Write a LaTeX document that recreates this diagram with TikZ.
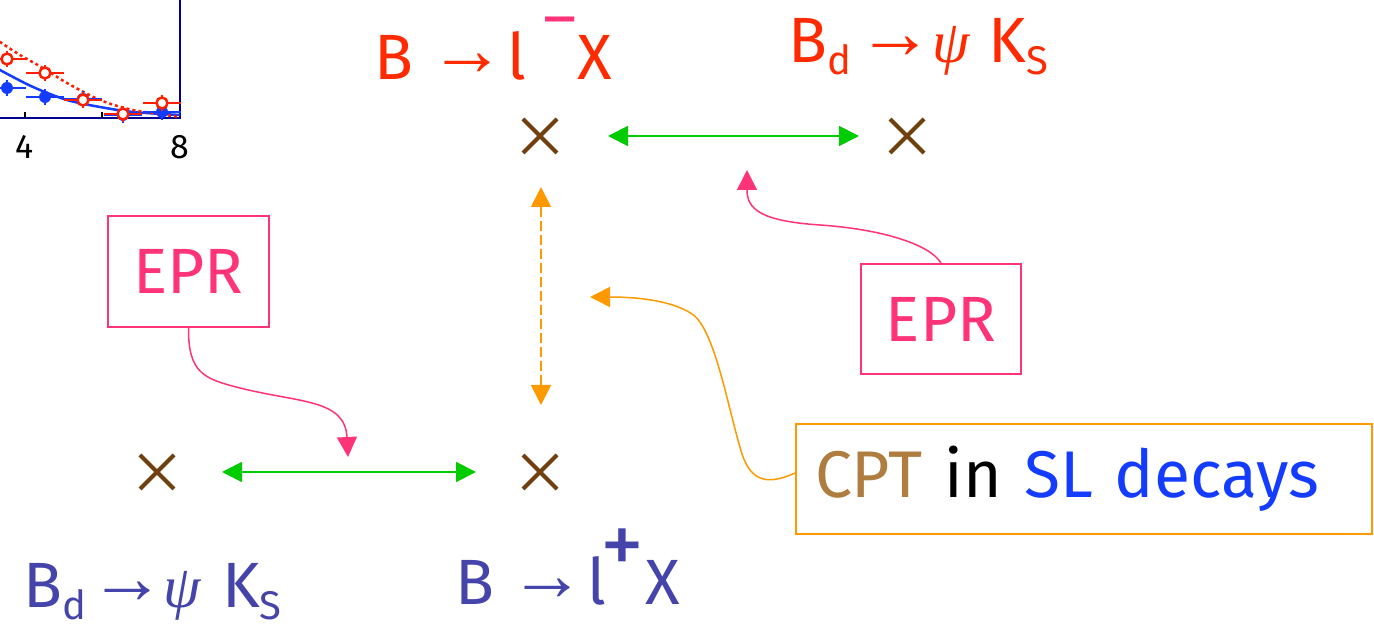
\documentclass[tikz,border=0pt]{standalone}
\usepackage{fontspec}
\setmainfont{Fira Sans}
\newfontfamily\symfont{Liberation Serif}
\usetikzlibrary{arrows.meta,shapes.misc}
\definecolor{lepred}{RGB}{255,42,0}
\definecolor{eprpink}{RGB}{255,51,119}
\definecolor{lepblue}{RGB}{68,68,170}
\definecolor{pairgreen}{RGB}{0,204,0}
\definecolor{cptorange}{RGB}{255,153,0}
\definecolor{vtxbrown}{RGB}{112,64,16}
\definecolor{cpttan}{RGB}{176,125,64}
\definecolor{slblue}{RGB}{20,60,255}
\definecolor{framenavy}{RGB}{0,0,140}
\definecolor{fitblue}{RGB}{20,60,255}
\definecolor{fitred}{RGB}{255,30,0}

\begin{document}
\begin{tikzpicture}[x=1pt, y=1pt,
    >={Triangle[length=20pt, width=20pt]},
    big/.style={font=\fontsize{64}{70}\selectfont, inner sep=0pt},
    decay/.style={big, anchor=base west},
    eprbox/.style={big, draw=eprpink, line width=1.6pt, text=eprpink,
        minimum width=160pt, minimum height=110pt},
    vertex/.style={cross out, draw=vtxbrown, line width=4pt,
        minimum size=30pt, inner sep=0pt},
    pair/.style={pairgreen, line width=1.8pt, <->},
    eprlink/.style={eprpink, line width=1.5pt, ->},
    cptlink/.style={cptorange, line width=1.5pt, ->}]
    % pixel grid of the slide: 1374 x 629, y measured upwards
    \useasboundingbox (0,0) rectangle (1374,629);
    \def\arr{\raisebox{4pt}{\fontsize{76}{80}\symfont →}}
    \def\dn#1{\raisebox{-12pt}{\fontsize{40}{44}\selectfont #1}}
    \def\bigpsi{{\fontsize{60}{66}\symfont\itshape ψ}}

    % corner of the asymmetry plot (cut off by the slide)
    \draw[framenavy, line width=2.5pt] (0,511) -- (180,511) -- (180,640);
    \foreach \tx in {25,102} \draw[black, line width=1.2pt] (\tx,511) -- (\tx,517);
    \node[font=\fontsize{34}{36}\selectfont, inner sep=0pt] (tick4) at (25,482) {4};
    \node[font=\fontsize{34}{36}\selectfont, inner sep=0pt] (tick8) at (180,482) {8};
    \draw[fitblue, line width=2.5pt] plot[smooth] coordinates {(-5,563) (0,559) (33,542) (67,529) (100,522) (133,517) (180,514)};
    \draw[fitred, line width=2.5pt, dash pattern=on 3pt off 3pt] plot[smooth] coordinates {(-5,591) (0,587) (20,574) (43,561) (67,546) (100,529) (133,519) (180,512)};
    \foreach \px/\py in {7/541, 45/532, 83/530, 123/514, 162/517} {
        \draw[fitblue, line width=2.5pt] (\px-19,\py) -- (\px+19,\py) (\px,\py-8) -- (\px,\py+8);
        \fill[fitblue] (\px,\py) circle (6pt);
    }
    \foreach \px/\py in {7/570, 45/556, 83/529, 123/515, 162/526} {
        \draw[fitred, line width=2.5pt] (\px-19,\py) -- (\px+19,\py) (\px,\py-8) -- (\px,\py+8);
        \draw[fitred, line width=2.5pt, fill=white] (\px,\py) circle (5.5pt);
    }

    % final states
    \node[decay, text=lepred] (decTL) at (374,549) {\makebox[55pt][l]{B}\makebox[78pt][l]{\arr}\makebox[36pt][l]{l}\makebox[34pt][l]{\raisebox{40pt}{\textcolor{eprpink}{--}}}X};
    \node[decay, text=lepred] (decTR) at (788,566) {\makebox[39pt][l]{B}\makebox[30pt][l]{\dn{d}}\makebox[75pt][l]{\arr}\makebox[56pt][l]{\bigpsi}\makebox[38pt][l]{K}\dn{S}};
    \node[decay, text=lepblue] (decBL) at (23,21) {\makebox[39pt][l]{B}\makebox[27pt][l]{\dn{d}}\makebox[74pt][l]{\arr}\makebox[59pt][l]{\bigpsi}\makebox[37pt][l]{K}\dn{S}};
    \node[decay, text=lepblue] (decBR) at (455,24) {\makebox[54pt][l]{B}\makebox[78pt][l]{\arr}\makebox[13pt][l]{l}\makebox[45pt][l]{\raisebox{30pt}{\fontsize{88}{90}\selectfont +}}X};

    % decay times
    \node[vertex] (xTL) at (540,493) {};
    \node[vertex] (xTR) at (907,493) {};
    \node[vertex] (xBL) at (157,157) {};
    \node[vertex] (xBR) at (540,157) {};
    \draw[pair] ([xshift=51pt]xTL.east) -- ([xshift=-31pt]xTR.west);
    \draw[pair] ([xshift=48pt]xBL.east) -- ([xshift=-47pt]xBR.west);
    \draw[cptorange, line width=1.8pt, dash pattern=on 10pt off 4pt, <->]
        ([xshift=1pt, yshift=-34pt]xTL.south) -- ([xshift=1pt, yshift=50pt]xBR.north);

    % labels
    \node[eprbox, minimum width=161pt, minimum height=111pt] (eprL) at (188.5,357.5) {EPR};
    \node[eprbox] (eprR) at (941,310) {EPR};
    \node[big, font=\fontsize{66}{70}\selectfont, draw=cptorange, line width=1.6pt,
        inner xsep=19pt, text width=538pt, align=left, minimum height=110pt]
        (cpt) at (1084,150) {\textcolor{cpttan}{CPT} in \textcolor{slblue}{SL decays}};
    \coordinate (eprLtip) at (348,172);
    \coordinate (eprRtip) at (747,459);
    \coordinate (cptTip) at (590,332);
    \draw[eprlink] (eprL.south) .. controls (188,255) and (205,250) .. (240,241)
        .. controls (300,226) and (345,230) .. (eprLtip);
    \draw[eprlink] (eprR.north) .. controls (930,385) and (880,400) .. (820,404)
        .. controls (760,408) and (747,420) .. (eprRtip);
    \draw[cptlink] ([yshift=6pt]cpt.west) .. controls (770,145) and (752,145) .. (742,175)
        .. controls (728,220) and (715,300) .. (692,315)
        .. controls (670,330) and (630,332) .. (cptTip);
\end{tikzpicture}
\end{document}
